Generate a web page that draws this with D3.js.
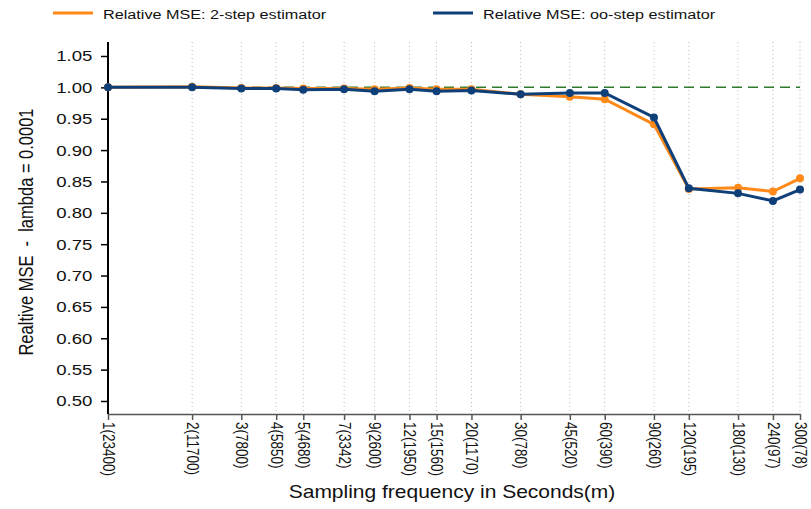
<!DOCTYPE html>
<html>
<head>
<meta charset="utf-8">
<script src="https://cdn.jsdelivr.net/npm/d3@7"></script>
<style>
  body { margin: 0; background: #fff; }
  svg { font-family: "Liberation Sans", Arial, sans-serif; }
</style>
</head>
<body>
<svg width="811" height="509"></svg>
<script>
// sampling frequency in seconds, and number of obs m
var seconds = [1, 2, 3, 4, 5, 7, 9, 12, 15, 20, 30, 45, 60, 90, 120, 180, 240, 300];
var mObs = [23400, 11700, 7800, 5850, 4680, 3342, 2600, 1950, 1560, 1170, 780, 520, 390, 260, 195, 130, 97, 78];

// relative MSE values
var mseTwoStep = [1.000, 1.001, 0.999, 0.999, 0.998, 0.998, 0.997, 0.999, 0.997, 0.997, 0.989, 0.985, 0.981, 0.941, 0.838, 0.840, 0.834, 0.855];
var mseInfStep = [1.000, 1.000, 0.998, 0.998, 0.996, 0.997, 0.994, 0.997, 0.994, 0.995, 0.989, 0.991, 0.991, 0.952, 0.839, 0.831, 0.819, 0.837];

var yTicks = [0.50, 0.55, 0.60, 0.65, 0.70, 0.75, 0.80, 0.85, 0.90, 0.95, 1.00, 1.05];
var seriesNames = ["Relative MSE: 2-step estimator", "Relative MSE: oo-step estimator"];
var seriesColors = ["#ff8a1a", "#0f3f78"];

window.onload = function() {
    makeChart();
}

function makeChart() {
    var svg = d3.select("svg");

    var plotTop = 42, plotBottom = 414, plotLeft = 108, plotRight = 800;

    // x is log scaled
    var x = d3.scaleLog()
        .domain([1, 300])
        .range([plotLeft, plotRight]);

    var y = d3.scaleLinear()
        .domain([0.5, 1.05])
        .range([401, 56]);

    // dotted vertical grid lines
    svg.append("g")
        .selectAll("line")
        .data(seconds.slice(1))
        .enter().append("line")
        .attr("x1", function(d) { return x(d); })
        .attr("x2", function(d) { return x(d); })
        .attr("y1", plotTop)
        .attr("y2", plotBottom)
        .attr("stroke", "#b8b8b8")
        .attr("stroke-width", 1)
        .attr("stroke-dasharray", "1,3");

    // reference line at 1
    svg.append("line")
        .attr("x1", plotLeft)
        .attr("x2", plotRight)
        .attr("y1", y(1))
        .attr("y2", y(1))
        .attr("stroke", "#2c7a2c")
        .attr("stroke-width", 1.5)
        .attr("stroke-dasharray", "10,6");

    // x axis
    var xAxis = svg.append("g")
        .attr("transform", "translate(0," + plotBottom + ")")
        .call(d3.axisBottom(x)
            .tickValues(seconds)
            .tickSize(6)
            .tickSizeOuter(0)
            .tickFormat(function(d, i) { return d + "(" + mObs[i] + ")"; }));

    xAxis.select(".domain").attr("stroke", "#555").attr("stroke-width", 1.5);
    xAxis.selectAll(".tick line").attr("stroke", "#555").attr("stroke-width", 1.5);

    // rotate x labels (glyphs a bit wider, like the original)
    xAxis.selectAll("text")
        .attr("y", 0)
        .attr("x", 8)
        .attr("dy", ".35em")
        .attr("transform", "rotate(90) scale(1,1.2)")
        .style("text-anchor", "start")
        .style("font-size", "13.5px")
        .attr("fill", "#111");

    // y axis
    var yAxis = svg.append("g")
        .attr("transform", "translate(" + plotLeft + ",0)")
        .call(d3.axisLeft(y)
            .tickValues(yTicks)
            .tickSize(7)
            .tickSizeOuter(0)
            .tickFormat(d3.format(".2f")));

    yAxis.select(".domain").remove();
    yAxis.append("line")
        .attr("y1", plotTop)
        .attr("y2", plotBottom)
        .attr("stroke", "#000")
        .attr("stroke-width", 2);
    yAxis.selectAll(".tick line").attr("stroke", "#000").attr("stroke-width", 1.5);
    yAxis.selectAll("text")
        .attr("x", -13)
        .attr("transform", "scale(1.2,1)")
        .style("font-size", "15.5px")
        .attr("fill", "#111");

    // lines and markers, orange first so blue sits on top
    var allSeries = [mseTwoStep, mseInfStep];

    var line = d3.line()
        .x(function(d, i) { return x(seconds[i]); })
        .y(function(d) { return y(d); });

    allSeries.forEach(function(vals, k) {
        svg.append("path")
            .datum(vals)
            .attr("fill", "none")
            .attr("stroke", seriesColors[k])
            .attr("stroke-width", 3)
            .attr("d", line);

        svg.append("g")
            .selectAll("circle")
            .data(vals)
            .enter().append("circle")
            .attr("cx", function(d, i) { return x(seconds[i]); })
            .attr("cy", function(d) { return y(d); })
            .attr("r", 4)
            .attr("fill", seriesColors[k]);
    });

    // legend
    var legendX = [53, 433];
    seriesNames.forEach(function(name, k) {
        var lg = svg.append("g").attr("transform", "translate(" + legendX[k] + ",13)");
        lg.append("line")
            .attr("x1", 0)
            .attr("x2", 40)
            .attr("stroke", seriesColors[k])
            .attr("stroke-width", 3);
        lg.append("text")
            .attr("transform", "translate(50,0) scale(1.2,1)")
            .attr("y", 6)
            .style("font-size", "13.5px")
            .attr("fill", "#111")
            .text(name);
    });

    // axis titles
    svg.append("text")
        .attr("transform", "translate(452,498) scale(1.2,1)")
        .attr("text-anchor", "middle")
        .style("font-size", "17.5px")
        .attr("fill", "#111")
        .text("Sampling frequency in Seconds(m)");

    svg.append("text")
        .attr("transform", "translate(33,232) rotate(-90) scale(1,1.2)")
        .attr("text-anchor", "middle")
        .style("font-size", "16.5px")
        .style("white-space", "pre")
        .attr("fill", "#111")
        .text("Realtive MSE  -  lambda = 0.0001");
}
</script>
</body>
</html>
